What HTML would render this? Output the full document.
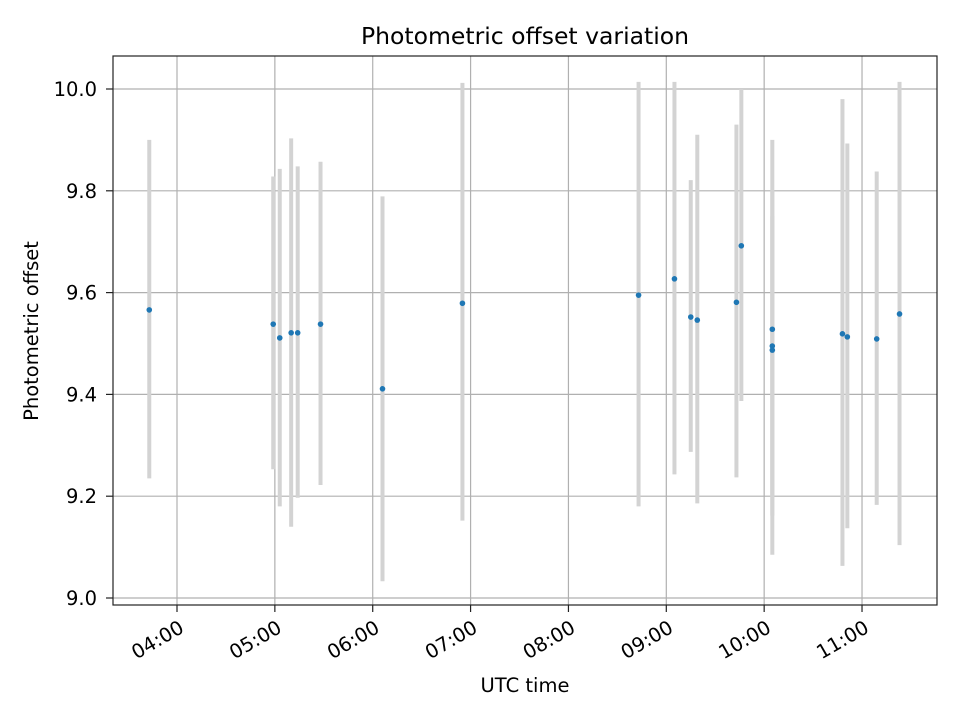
<!DOCTYPE html>
<html><head><meta charset="utf-8"><style>
body{margin:0;background:#fff;}
svg text{font-family:"DejaVu Sans","Liberation Sans",sans-serif;fill:#000;}
</style></head><body>
<svg id="chart" width="960" height="720">
<rect width="960" height="720" fill="#fff"/>
<g id="grid"></g><g id="bars"></g><g id="pts"></g><g id="axes"></g>
<text x="525" y="44" text-anchor="middle" font-size="23.5">Photometric offset variation</text>
<text x="525" y="692" text-anchor="middle" font-size="19.5">UTC time</text>
<text transform="translate(38,331) rotate(-90)" text-anchor="middle" font-size="19.5">Photometric offset</text>
</svg>
<script>
const times=["03:43","04:59","05:03","05:10","05:14","05:28","06:06","06:55","08:43","09:05","09:15","09:19","09:43","09:46","10:05","10:05","10:05","10:48","10:51","11:09","11:23"];
const values=[9.566,9.538,9.511,9.521,9.521,9.538,9.411,9.579,9.595,9.627,9.552,9.546,9.581,9.692,9.528,9.495,9.487,9.519,9.513,9.509,9.558];
const upper=[9.90,9.828,9.843,9.903,9.848,9.857,9.789,10.012,10.014,10.014,9.821,9.91,9.93,10.0,9.9,9.80,9.75,9.98,9.893,9.838,10.014];
const lower=[9.235,9.253,9.18,9.14,9.197,9.222,9.033,9.152,9.18,9.243,9.287,9.186,9.237,9.387,9.162,9.085,9.20,9.063,9.137,9.183,9.104];
const xTicks=["04:00","05:00","06:00","07:00","08:00","09:00","10:00","11:00"];
const yTicks=[9.0,9.2,9.4,9.6,9.8,10.0];
const NS="http://www.w3.org/2000/svg";
const L=113,R=937,T=56,B=605;
function h(s){const p=s.split(":");return +p[0]+p[1]/60;}
function X(t){return 177+(h(t)-4)*97.86;}
function Y(v){return 89+(10-v)*509;}
function mk(tag,attrs,parent){const e=document.createElementNS(NS,tag);for(const k in attrs)e.setAttribute(k,attrs[k]);document.getElementById(parent).appendChild(e);return e;}
xTicks.forEach(t=>{const x=X(t);
 const g=mk("line",{x1:x,x2:x,y1:T,y2:B,stroke:"#b0b0b0","stroke-width":1.2},"grid");
 
 
 mk("line",{x1:x,x2:x,y1:B,y2:B+7,stroke:"#222","stroke-width":1.2},"axes");
 const ax=x+1, ay=B+14;
 const tx=mk("text",{x:ax,y:ay,"font-size":19.5,"text-anchor":"end",transform:`rotate(-30 ${ax} ${ay})`,"dominant-baseline":"hanging"},"axes");
 tx.textContent=t;
 
 
});
yTicks.forEach(v=>{const y=Y(v);
 const g=mk("line",{x1:L,x2:R,y1:y,y2:y,stroke:"#b0b0b0","stroke-width":1.2},"grid");
 
 
 mk("line",{x1:L-7,x2:L,y1:y,y2:y,stroke:"#222","stroke-width":1.2},"axes");
 const tx=mk("text",{x:L-16,y:y+7,"font-size":19.5,"text-anchor":"end"},"axes");
 tx.textContent=v.toFixed(1);
 
 
});
const fr=mk("rect",{x:L,y:T,width:R-L,height:B-T,fill:"none",stroke:"#222","stroke-width":1.2},"axes");


times.forEach((t,i)=>{const x=X(t);
 const b=mk("line",{x1:x,x2:x,y1:Y(upper[i]),y2:Y(lower[i]),stroke:"#d3d3d3","stroke-width":4},"bars");
 
 
 const c=mk("circle",{cx:x,cy:Y(values[i]),r:2.8,fill:"#1f77b4"},"pts");
 
 
});
</script>
</body></html>
